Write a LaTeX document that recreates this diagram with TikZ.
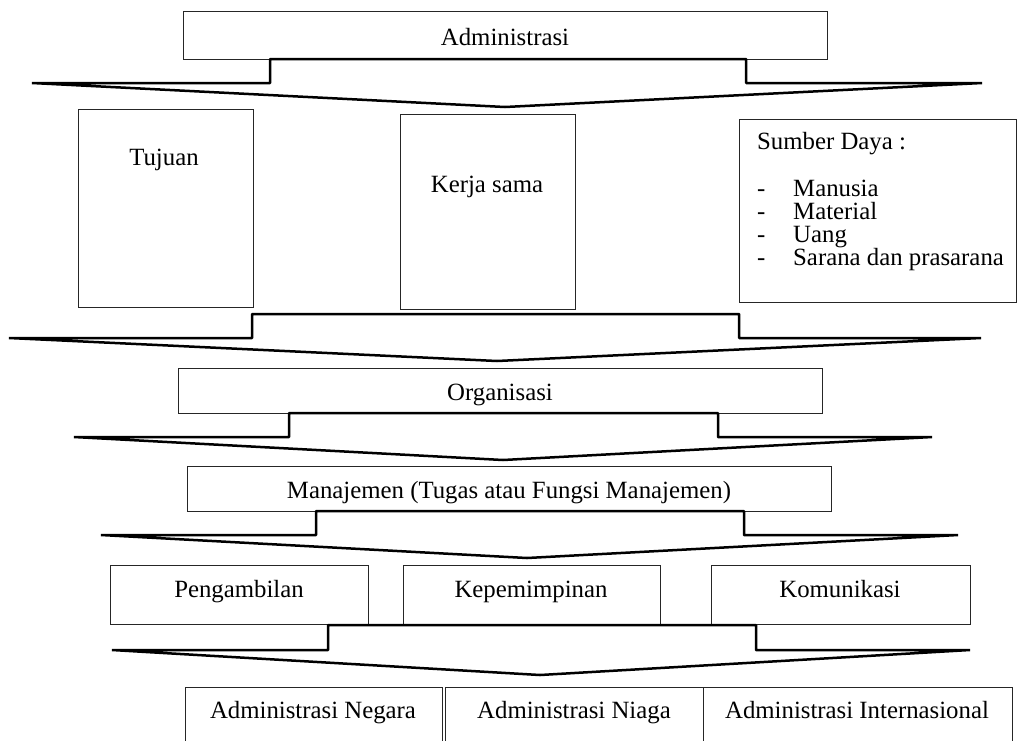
\documentclass[tikz,border=0pt]{standalone}
\usepackage{fontspec}
\setmainfont{Liberation Serif}
\begin{document}
\begin{tikzpicture}[x=1pt,y=-1pt,
  box/.style={draw=black!85,line width=0.9pt,fill=none,inner sep=0pt,outer sep=0pt,anchor=north west},
  lbl/.style={inner sep=0pt,anchor=base,font=\fontsize{24.8}{28}\selectfont},
  lbll/.style={inner sep=0pt,anchor=base west,font=\fontsize{24.8}{28}\selectfont,text height=15pt,text depth=4pt},
  flow/.style={draw=black,line width=2.5pt,line join=bevel}]
\useasboundingbox (0,0) rectangle (1017,740);
\clip (0,0) rectangle (1017,740);
% boxes
\node[box,minimum width=644,minimum height=48] (adm) at (183,11) {};
\node[box,minimum width=175,minimum height=198] (tuj) at (78,109) {};
\node[box,minimum width=175,minimum height=195] (ker) at (400,114) {};
\node[box,minimum width=277,minimum height=183] (sum) at (739,119) {};
\node[box,minimum width=644,minimum height=45] (org) at (178,368) {};
\node[box,minimum width=644,minimum height=45] (man) at (187,466) {};
\node[box,minimum width=258,minimum height=59] (pen) at (110,565) {};
\node[box,minimum width=257,minimum height=59] (kep) at (403,565) {};
\node[box,minimum width=259,minimum height=59] (kom) at (711,565) {};
\node[box,minimum width=257,minimum height=80] (neg) at (185,687) {};
\node[box,minimum width=258,minimum height=80] (nia) at (445,687) {};
\node[box,minimum width=309,minimum height=80] (int) at (703,687) {};
% labels
\node[lbl] (tadm) at (505,45) {Administrasi};
\node[lbl] (ttuj) at (164,165) {Tujuan};
\node[lbl] (tker) at (487,192) {Kerja sama};
\node[lbll] (tsum) at (757,149) {Sumber Daya :};
\node[lbll] (d1) at (757,196) {-};
\node[lbll] (d2) at (757,219) {-};
\node[lbll] (d3) at (757,242) {-};
\node[lbll] (d4) at (757,265) {-};
\node[lbll] (s1) at (793,196) {Manusia};
\node[lbll] (s2) at (793,219) {Material};
\node[lbll] (s3) at (793,242) {Uang};
\node[lbll] (s4) at (793,265) {Sarana dan prasarana};
\node[lbl] (torg) at (500,400) {Organisasi};
\node[lbl] (tman) at (509,498) {Manajemen (Tugas atau Fungsi Manajemen)};
\node[lbl] (tpen) at (239,597) {Pengambilan};
\node[lbl] (tkep) at (531,597) {Kepemimpinan};
\node[lbl] (tkom) at (840,597) {Komunikasi};
\node[lbl] (tneg) at (313,718) {Administrasi Negara};
\node[lbl] (tnia) at (574,718) {Administrasi Niaga};
\node[lbl] (tint) at (857,718) {Administrasi Internasional};
% flow arrows
\draw[flow] (270,59) -- (270,83) -- (32,83) -- (505,107) -- (982,83) -- (746,83) -- (746,59) -- cycle;
\draw[flow] (252,314) -- (739,314) -- (739,338) -- (981,338) -- (497,361) -- (9,338) -- (252,338) -- cycle;
\draw[flow] (289,413) -- (289,437) -- (74,437) -- (503,460) -- (932,437) -- (718,437) -- (718,413) -- cycle;
\draw[flow] (316,511) -- (316,535) -- (101,535) -- (527,558) -- (958,535) -- (744,535) -- (744,511) -- cycle;
\draw[flow] (328,625) -- (328,650) -- (112,650) -- (540,675) -- (970,650) -- (756,650) -- (756,625) -- cycle;
\end{tikzpicture}
\end{document}
